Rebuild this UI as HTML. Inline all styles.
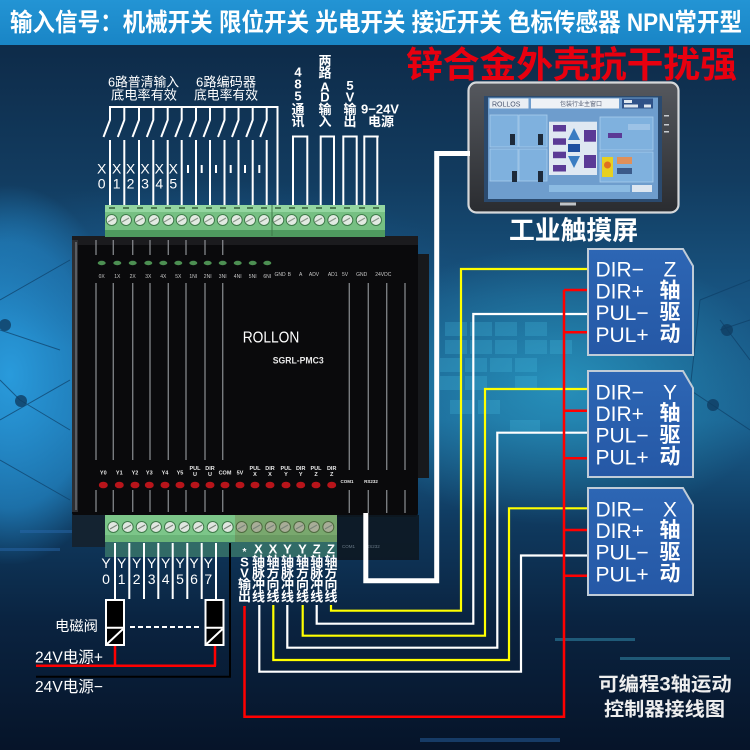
<!DOCTYPE html>
<html><head><meta charset="utf-8">
<style>
html,body{margin:0;padding:0;background:#0c2a45;}
svg{display:block}
text{font-family:"Liberation Sans","Noto Sans CJK SC",sans-serif;}
</style></head><body>
<svg width="750" height="750" viewBox="0 0 750 750" xmlns="http://www.w3.org/2000/svg">
<defs>
<linearGradient id="bg" x1="0" y1="0" x2="0" y2="1">
 <stop offset="0.06" stop-color="#0e2b49"/>
 <stop offset="0.24" stop-color="#123c60"/>
 <stop offset="0.40" stop-color="#185582"/>
 <stop offset="0.56" stop-color="#1a5f8e"/>
 <stop offset="0.70" stop-color="#0f395e"/>
 <stop offset="0.83" stop-color="#0a2340"/>
 <stop offset="1" stop-color="#061429"/>
</linearGradient>
<radialGradient id="glowL"><stop offset="0" stop-color="#2a9ee0" stop-opacity="0.95"/><stop offset="0.7" stop-color="#2490d4" stop-opacity="0.6"/><stop offset="1" stop-color="#2490d4" stop-opacity="0"/></radialGradient>
<radialGradient id="glowR"><stop offset="0" stop-color="#2fb2da" stop-opacity="0.6"/><stop offset="1" stop-color="#2fb2da" stop-opacity="0"/></radialGradient>
<radialGradient id="glowB"><stop offset="0" stop-color="#1b5f95" stop-opacity="0.6"/><stop offset="1" stop-color="#1b5f95" stop-opacity="0"/></radialGradient>
<linearGradient id="bez" x1="0" y1="0" x2="0" y2="1"><stop offset="0" stop-color="#55585e"/><stop offset="1" stop-color="#2a2c30"/></linearGradient>
<linearGradient id="boxg" x1="0" y1="0" x2="0" y2="1"><stop offset="0" stop-color="#2d66b4"/><stop offset="1" stop-color="#2558a6"/></linearGradient>
<linearGradient id="banner" x1="0" y1="0" x2="0" y2="1"><stop offset="0" stop-color="#2394d4"/><stop offset="1" stop-color="#1985c6"/></linearGradient>
</defs>

<!-- background -->
<rect x="0" y="0" width="750" height="750" fill="url(#bg)"/>
<ellipse cx="10" cy="375" rx="120" ry="190" fill="url(#glowL)"/>
<ellipse cx="560" cy="385" rx="220" ry="140" fill="url(#glowR)"/>
<ellipse cx="200" cy="270" rx="260" ry="90" fill="url(#glowB)"/>
<!-- tiles -->
<g fill="#4cc6ea" opacity="0.22">
 <rect x="445" y="322" width="22" height="14"/><rect x="470" y="322" width="22" height="14"/><rect x="495" y="322" width="22" height="14"/><rect x="525" y="322" width="22" height="14"/>
 <rect x="445" y="340" width="22" height="14"/><rect x="470" y="340" width="22" height="14"/><rect x="495" y="340" width="22" height="14"/><rect x="525" y="340" width="22" height="14"/><rect x="550" y="340" width="22" height="14"/>
 <rect x="440" y="358" width="22" height="14"/><rect x="465" y="358" width="22" height="14"/><rect x="490" y="358" width="22" height="14"/><rect x="515" y="358" width="22" height="14"/>
 <rect x="440" y="376" width="22" height="14"/><rect x="465" y="376" width="22" height="14"/><rect x="515" y="376" width="22" height="14"/>
 <rect x="450" y="400" width="22" height="14"/><rect x="478" y="400" width="22" height="14"/><rect x="510" y="420" width="30" height="12"/>
</g>
<!-- network lines -->
<g stroke="#0e3f66" stroke-width="1" opacity="0.7" fill="none">
 <path d="M0 300 L70 260 M0 330 L60 350 M0 420 L70 380 M20 400 L70 430 M0 460 L70 500 M20 400 L0 380"/>
 <path d="M700 300 L750 280 M720 320 L750 360 M690 390 L750 430 M700 300 L690 390 M720 330 L750 320"/>
</g>
<g fill="#0f3d63" opacity="0.8"><circle cx="5" cy="325" r="6"/><circle cx="21" cy="401" r="6"/><circle cx="727" cy="330" r="6"/><circle cx="713" cy="405" r="6"/></g>
<!-- streaks -->
<g opacity="0.45">
 <rect x="555" y="638" width="80" height="3" fill="#3aa0c0"/>
 <rect x="620" y="657" width="110" height="3" fill="#3aa0c0"/>
 <rect x="420" y="738" width="140" height="4" fill="#2a6ab0"/>
 <rect x="20" y="530" width="120" height="3" fill="#2a6ab0"/>
 <rect x="0" y="548" width="60" height="3" fill="#2a6ab0"/>
</g>

<!-- banner -->
<rect x="0" y="0" width="750" height="45" fill="url(#banner)"/>
<text x="10" y="31" font-size="25" font-weight="bold" fill="#ffffff" textLength="732" lengthAdjust="spacingAndGlyphs">输入信号：机械开关 限位开关 光电开关 接近开关 色标传感器 NPN常开型</text>

<!-- red title -->
<text x="406" y="77" font-size="36" font-weight="bold" fill="#e8000f" textLength="331" lengthAdjust="spacingAndGlyphs">锌合金外壳抗干扰强</text>

<!-- top labels -->
<g fill="#ffffff" font-size="13">
 <text x="108" y="86.5" textLength="71" lengthAdjust="spacingAndGlyphs">6路普清输入</text>
 <text x="111" y="99.5" textLength="66" lengthAdjust="spacingAndGlyphs">底电率有效</text>
 <text x="196" y="86.5" textLength="60" lengthAdjust="spacingAndGlyphs">6路编码器</text>
 <text x="194" y="99.5" textLength="64" lengthAdjust="spacingAndGlyphs">底电率有效</text>
</g>
<g fill="#ffffff" font-size="13" font-weight="bold" text-anchor="middle">
 <text x="298" y="76.5">4</text><text x="298" y="88.5">8</text><text x="298" y="100.5">5</text><text x="298" y="114">通</text><text x="298" y="126">讯</text>
 <text x="325" y="65.5">两</text><text x="325" y="77.5">路</text><text x="325" y="91.5">A</text><text x="325" y="101.7">D</text><text x="325" y="114">输</text><text x="325" y="126">入</text>
 <text x="350" y="90">5</text><text x="350" y="101.7">V</text><text x="350" y="114">输</text><text x="350" y="126">出</text>
 <text x="380" y="113.3">9−24V</text>
 <text x="381" y="126">电源</text>
</g>

<!-- top wires -->
<g stroke="#ffffff" stroke-width="2" fill="none">
 <path d="M109 107 H278.5 M277.5 106 V206"/>
 <path d="M110 107V120L103.5 137M110 140V206"/>
 <path d="M124.3 107V120L117.8 137M124.3 140V206"/>
 <path d="M139 107V120L132.5 137M139 140V206"/>
 <path d="M153.3 107V120L146.8 137M153.3 140V206"/>
 <path d="M167.7 107V120L161.2 137M167.7 140V206"/>
 <path d="M181.7 107V120L175.2 137M181.7 140V206"/>
 <path d="M196 107V120L189.5 137M196 140V206"/>
 <path d="M210 107V120L203.5 137M210 140V206"/>
 <path d="M224.5 107V120L218 137M224.5 140V206"/>
 <path d="M238.5 107V120L232 137M238.5 140V206"/>
 <path d="M252.7 107V120L246.2 137M252.7 140V206"/>
 <path d="M266.7 107V120L260.2 137M266.7 140V206"/>
 <path d="M293 206V136.5H308.3M307.3 136.5V206"/>
 <path d="M320.7 206V136.5H335M334 136.5V206"/>
 <path d="M343.3 206V136.5H357.7M356.7 136.5V206"/>
 <path d="M364.3 206V136.5H378.7M377.3 136.5V206"/>
 <path d="M188 165V173M201.7 165V173M216 165V173M230.7 165V173M245 165V173M259.3 165V173"/>
</g>
<g fill="#ffffff" font-size="14" text-anchor="middle">
 <text x="101.7" y="173.5">X</text><text x="116.7" y="173.5">X</text><text x="130.5" y="173.5">X</text><text x="145" y="173.5">X</text><text x="159.3" y="173.5">X</text><text x="173.3" y="173.5">X</text>
 <text x="101.7" y="188.5">0</text><text x="116.7" y="188.5">1</text><text x="130.5" y="188.5">2</text><text x="145" y="188.5">3</text><text x="159.3" y="188.5">4</text><text x="173.3" y="188.5">5</text>
</g>

<!-- touch screen -->
<rect x="468.5" y="82.5" width="210" height="130" rx="8" fill="url(#bez)" stroke="#d6d8da" stroke-width="2.2"/>
<rect x="484" y="96" width="178" height="106" fill="#2b4a6e"/>
<rect x="488" y="97.5" width="170" height="101.5" fill="#6e9dcd"/>
<rect x="489.5" y="98.5" width="39" height="10" fill="#e9eef3"/>
<text x="492" y="106.3" font-size="7" fill="#4a5670" font-family="Liberation Serif, serif">ROLLOS</text>
<rect x="531" y="98.5" width="88" height="10" fill="#eef2f6"/>
<text x="560" y="106" font-size="6" fill="#5a6378">包装行业主窗口</text>
<rect x="622" y="98.5" width="31" height="10" fill="#2f5288"/>
<rect x="624" y="100" width="8" height="3" fill="#e0e8f0"/><rect x="624" y="104.5" width="14" height="3" fill="#e0e8f0"/><rect x="644" y="104.5" width="7" height="3" fill="#e0e8f0"/>
<g fill="#7fb1de" stroke="#a8cdec" stroke-width="0.8">
 <rect x="490" y="115" width="28" height="32"/><rect x="519" y="115" width="28" height="32"/>
 <rect x="490" y="149" width="28" height="32"/><rect x="519" y="149" width="28" height="32"/>
 <rect x="600" y="117" width="53" height="33"/><rect x="600" y="152" width="53" height="30"/>
</g>
<g fill="#1d2a3a"><rect x="510" y="134" width="5" height="11"/><rect x="538" y="134" width="5" height="11"/><rect x="512" y="171" width="5" height="11"/><rect x="538" y="171" width="5" height="11"/></g>
<rect x="549" y="121.7" width="48" height="53.3" fill="#dfe8f2"/>
<g fill="#5b3a96"><rect x="553" y="125" width="13" height="6.5"/><rect x="553" y="138.3" width="13" height="6.5"/><rect x="553" y="151.7" width="13" height="6.5"/><rect x="553" y="165" width="13" height="6.5"/><rect x="584" y="130" width="12" height="11.7"/><rect x="584" y="155" width="12" height="13"/></g>
<path d="M574 128 L580 140 L568 140 Z M568 156 L580 156 L574 168 Z" fill="#3a7cc2"/>
<rect x="568" y="144" width="12" height="8" fill="#1f4fa0"/>
<rect x="628" y="124" width="22" height="6" fill="#9cc2e6"/><rect x="608" y="133" width="14" height="5" fill="#5b3a96"/>
<rect x="602" y="157" width="11" height="20" fill="#e8d020"/><circle cx="607.5" cy="165" r="3.5" fill="#e07020"/>
<rect x="617" y="157" width="15" height="7" fill="#e0905a"/><rect x="617" y="168" width="15" height="6" fill="#3a5a8a"/>
<rect x="549" y="185" width="81" height="7" fill="#8cbbe2"/><rect x="632" y="185" width="20" height="7" fill="#dde6f0"/>
<g fill="#c8ccd0"><rect x="664" y="115" width="5" height="1.5"/><rect x="664" y="124" width="5" height="1.5"/><rect x="664" y="131" width="5" height="1.5"/></g>
<rect x="560" y="202.5" width="16" height="3" fill="#c0c4c8"/>
<text x="509" y="239.5" font-size="26" font-weight="bold" fill="#ffffff" textLength="129" lengthAdjust="spacingAndGlyphs">工业触摸屏</text>

<!-- device body -->
<rect x="72" y="236" width="346" height="281" rx="4" fill="#0a0a0c"/>
<rect x="418" y="254" width="11" height="224" fill="#17191c"/>
<rect x="72" y="236" width="346" height="9" fill="#1b1b1e"/>
<rect x="72" y="240" width="6" height="272" fill="#2c2e32"/>
<line x1="76" y1="242" x2="76" y2="510" stroke="#6a6d72" stroke-width="1.5"/>
<g stroke="#8d9095" stroke-width="1.4" opacity="0.85">
 <path d="M96 283V460M113.3 283V460M132.7 283V460M150 283V460M168.3 283V460M186 283V460M205 283V460M222.7 283V460"/>
 <path d="M96 490V512M113.3 490V512M132.7 490V512M150 490V512M168.3 490V512M186 490V512M205 490V512M222.7 490V512"/>
 <path d="M96 240V255M113.3 240V255M132.7 240V255M150 240V255M168.3 240V255M186 240V255M205 240V255M222.7 240V255"/>
 <path d="M349.3 283V470M368.3 283V470M386.7 283V470M405 283V470M349.3 490V513M368.3 490V513M386.7 490V513M405 490V513"/>
</g>
<!-- green LEDs -->
<g fill="#4c8f52">
 <ellipse cx="101.7" cy="263" rx="4" ry="2.2"/><ellipse cx="117.3" cy="263" rx="4" ry="2.2"/><ellipse cx="132.7" cy="263" rx="4" ry="2.2"/><ellipse cx="148.3" cy="263" rx="4" ry="2.2"/><ellipse cx="163.3" cy="263" rx="4" ry="2.2"/><ellipse cx="178.3" cy="263" rx="4" ry="2.2"/><ellipse cx="193.3" cy="263" rx="4" ry="2.2"/><ellipse cx="207.7" cy="263" rx="4" ry="2.2"/><ellipse cx="222.7" cy="263" rx="4" ry="2.2"/><ellipse cx="237.7" cy="263" rx="4" ry="2.2"/><ellipse cx="252.7" cy="263" rx="4" ry="2.2"/><ellipse cx="267.3" cy="263" rx="4" ry="2.2"/>
</g>
<g fill="#c8c8c8" font-size="5" text-anchor="middle">
 <text x="101.7" y="278">0X</text><text x="117.3" y="278">1X</text><text x="132.7" y="278">2X</text><text x="148.3" y="278">3X</text><text x="163.3" y="278">4X</text><text x="178.3" y="278">5X</text><text x="193.3" y="278">1NI</text><text x="207.7" y="278">2NI</text><text x="222.7" y="278">3NI</text><text x="237.7" y="278">4NI</text><text x="252.7" y="278">5NI</text><text x="267.3" y="278">6NI</text>
 <text x="280" y="276">GND</text><text x="289.3" y="276">B</text><text x="300.7" y="276">A</text><text x="314" y="276">ADV</text><text x="332.7" y="276">AD1</text><text x="345" y="276">5V</text><text x="361.7" y="276">GND</text><text x="383.3" y="276">24VDC</text>
</g>
<text x="242.7" y="342.7" font-size="15.5" fill="#ffffff" textLength="56.6" lengthAdjust="spacingAndGlyphs">ROLLON</text>
<text x="272.7" y="363.3" font-size="9.5" font-weight="bold" fill="#e8e8e8" textLength="51" lengthAdjust="spacingAndGlyphs">SGRL-PMC3</text>
<!-- red LEDs -->
<g fill="#b8141a">
 <ellipse cx="103.3" cy="485" rx="4.5" ry="3.3"/><ellipse cx="119.3" cy="485" rx="4.5" ry="3.3"/><ellipse cx="135" cy="485" rx="4.5" ry="3.3"/><ellipse cx="149.3" cy="485" rx="4.5" ry="3.3"/><ellipse cx="165" cy="485" rx="4.5" ry="3.3"/><ellipse cx="180" cy="485" rx="4.5" ry="3.3"/><ellipse cx="195" cy="485" rx="4.5" ry="3.3"/><ellipse cx="210" cy="485" rx="4.5" ry="3.3"/><ellipse cx="225" cy="485" rx="4.5" ry="3.3"/><ellipse cx="240" cy="485" rx="4.5" ry="3.3"/><ellipse cx="255" cy="485" rx="4.5" ry="3.3"/><ellipse cx="270" cy="485" rx="4.5" ry="3.3"/><ellipse cx="286" cy="485" rx="4.5" ry="3.3"/><ellipse cx="300.7" cy="485" rx="4.5" ry="3.3"/><ellipse cx="316" cy="485" rx="4.5" ry="3.3"/><ellipse cx="331.7" cy="485" rx="4.5" ry="3.3"/>
</g>
<g fill="#e8e8e8" font-size="5.5" text-anchor="middle" font-weight="bold">
 <text x="103.3" y="474.5">Y0</text><text x="119.3" y="474.5">Y1</text><text x="135" y="474.5">Y2</text><text x="149.3" y="474.5">Y3</text><text x="165" y="474.5">Y4</text><text x="180" y="474.5">Y5</text>
 <text x="195" y="470">PUL</text><text x="195" y="476">U</text><text x="210" y="470">DIR</text><text x="210" y="476">U</text><text x="225" y="474.5">COM</text><text x="240" y="474.5">5V</text>
 <text x="255" y="470">PUL</text><text x="255" y="476">X</text><text x="270" y="470">DIR</text><text x="270" y="476">X</text><text x="286" y="470">PUL</text><text x="286" y="476">Y</text>
 <text x="300.7" y="470">DIR</text><text x="300.7" y="476">Y</text><text x="316" y="470">PUL</text><text x="316" y="476">Z</text><text x="331.7" y="470">DIR</text><text x="331.7" y="476">Z</text>
 <text x="347" y="483" font-size="4.5">COM1</text><text x="371" y="483" font-size="4.5">RS232</text>
</g>

<!-- top terminal block -->
<rect x="105" y="205" width="280" height="31" fill="#76c083"/>
<rect x="105" y="205" width="280" height="7" fill="#93d6a0"/>
<rect x="105" y="230" width="280" height="7" fill="#4f9a5f"/>
<line x1="272" y1="205" x2="272" y2="236" stroke="#3f7a4a" stroke-width="1"/>
<g fill="#4a7a52">
 <rect x="109" y="207" width="6" height="2"/><rect x="123" y="207" width="6" height="2"/><rect x="137" y="207" width="6" height="2"/><rect x="151" y="207" width="6" height="2"/><rect x="165" y="207" width="6" height="2"/><rect x="179" y="207" width="6" height="2"/><rect x="192" y="207" width="6" height="2"/><rect x="206" y="207" width="6" height="2"/><rect x="220" y="207" width="6" height="2"/><rect x="234" y="207" width="6" height="2"/><rect x="247" y="207" width="6" height="2"/><rect x="261" y="207" width="6" height="2"/><rect x="275" y="207" width="6" height="2"/><rect x="289" y="207" width="6" height="2"/><rect x="302" y="207" width="6" height="2"/><rect x="316" y="207" width="6" height="2"/><rect x="330" y="207" width="6" height="2"/><rect x="344" y="207" width="6" height="2"/><rect x="359" y="207" width="6" height="2"/><rect x="373" y="207" width="6" height="2"/>
</g>
<g fill="#e2eae2" stroke="#3f7a4a" stroke-width="1">
 <circle cx="111.7" cy="220" r="5.5"/><circle cx="126" cy="220" r="5.5"/><circle cx="140" cy="220" r="5.5"/><circle cx="154" cy="220" r="5.5"/><circle cx="168.3" cy="220" r="5.5"/><circle cx="181.7" cy="220" r="5.5"/><circle cx="195" cy="220" r="5.5"/><circle cx="209" cy="220" r="5.5"/><circle cx="222.7" cy="220" r="5.5"/><circle cx="236.7" cy="220" r="5.5"/><circle cx="250" cy="220" r="5.5"/><circle cx="264" cy="220" r="5.5"/><circle cx="278.3" cy="220" r="5.5"/><circle cx="291.7" cy="220" r="5.5"/><circle cx="305" cy="220" r="5.5"/><circle cx="319.3" cy="220" r="5.5"/><circle cx="333.3" cy="220" r="5.5"/><circle cx="347.3" cy="220" r="5.5"/><circle cx="361.7" cy="220" r="5.5"/><circle cx="376" cy="220" r="5.5"/>
</g>
<g stroke="#8a968a" stroke-width="1.2">
 <path d="M108 222L115 218M122 222L129 218M136 222L143 218M150 222L157 218M164 222L171 218M178 222L185 218M191 222L198 218M205 222L212 218M219 222L226 218M233 222L240 218M246 222L253 218M260 222L267 218M274 222L281 218M288 222L295 218M301 222L308 218M315 222L322 218M329 222L336 218M343 222L350 218M358 222L365 218M372 222L379 218"/>
</g>

<!-- lower dark areas -->
<rect x="72" y="515" width="34" height="32" fill="#142331"/>
<rect x="337" y="515" width="82" height="45" fill="#0d1822" opacity="0.9"/>
<g fill="#6a7a88" font-size="4.5"><text x="342" y="548">COM1</text><text x="366" y="548">RS232</text></g>

<!-- bottom terminal -->
<rect x="105" y="515" width="130" height="27" fill="#7cc689"/>
<rect x="235" y="515" width="102" height="27" fill="#79a86e"/>
<rect x="105" y="535" width="130" height="7" fill="#6ab478"/>
<rect x="235" y="535" width="102" height="7" fill="#6a9a62"/>
<rect x="105" y="542" width="232" height="15" fill="#3e7d6c" opacity="0.75"/>
<g fill="#e0e6e0" stroke="#3f7a4a" stroke-width="1">
 <circle cx="113.3" cy="527" r="5.5"/><circle cx="127.7" cy="527" r="5.5"/><circle cx="141.7" cy="527" r="5.5"/><circle cx="156" cy="527" r="5.5"/><circle cx="170" cy="527" r="5.5"/><circle cx="184.3" cy="527" r="5.5"/><circle cx="198.3" cy="527" r="5.5"/><circle cx="212.7" cy="527" r="5.5"/><circle cx="227.7" cy="527" r="5.5"/>
</g>
<g fill="#a8ad98" stroke="#4f6a40" stroke-width="1">
 <circle cx="241.7" cy="527" r="5.5"/><circle cx="256.7" cy="527" r="5.5"/><circle cx="270.7" cy="527" r="5.5"/><circle cx="285" cy="527" r="5.5"/><circle cx="299.3" cy="527" r="5.5"/><circle cx="314" cy="527" r="5.5"/><circle cx="328.3" cy="527" r="5.5"/>
</g>
<g stroke="#7a867a" stroke-width="1.2">
 <path d="M110 529L117 525M124 529L131 525M138 529L145 525M152 529L159 525M166 529L173 525M181 529L188 525M195 529L202 525M209 529L216 525M224 529L231 525M238 529L245 525M253 529L260 525M267 529L274 525M281 529L288 525M296 529L303 525M310 529L317 525M325 529L332 525"/>
</g>

<!-- bottom-left wiring -->
<g stroke="#ffffff" stroke-width="2" fill="none">
 <path d="M115 543V599M129.3 543V599M144 543V599M158.3 543V599M172.7 543V599M187.3 543V599M201.7 543V599M216 543V599"/>
 <path d="M130 627H200" stroke-dasharray="5 3"/>
</g>
<g fill="#ffffff" font-size="14" text-anchor="middle">
 <text x="106" y="568">Y</text><text x="121.7" y="568">Y</text><text x="136.7" y="568">Y</text><text x="151.7" y="568">Y</text><text x="165.7" y="568">Y</text><text x="180" y="568">Y</text><text x="194" y="568">Y</text><text x="208.3" y="568">Y</text>
 <text x="106" y="584">0</text><text x="121.7" y="584">1</text><text x="136.7" y="584">2</text><text x="151.7" y="584">3</text><text x="165.7" y="584">4</text><text x="180" y="584">5</text><text x="194" y="584">6</text><text x="208.3" y="584">7</text>
</g>
<path d="M230 543V676.7H36" stroke="#000000" stroke-width="2" fill="none"/>
<path d="M115 645V665.7M36 665.7H216M215 645V665.7" stroke="#ff0000" stroke-width="2.5" fill="none"/>
<g stroke="#ffffff" stroke-width="2">
 <rect x="106" y="600" width="18" height="45" fill="#000000"/>
 <line x1="106" y1="627.7" x2="124" y2="627.7"/>
 <line x1="107" y1="644" x2="123" y2="629"/>
 <rect x="205.5" y="600" width="18" height="45" fill="#000000"/>
 <line x1="205.5" y1="627.7" x2="223.5" y2="627.7"/>
 <line x1="206.5" y1="644" x2="222.5" y2="629"/>
</g>
<text x="55" y="631" font-size="14" fill="#ffffff" textLength="43" lengthAdjust="spacingAndGlyphs">电磁阀</text>
<text x="35" y="662.5" font-size="16" fill="#ffffff" textLength="68" lengthAdjust="spacingAndGlyphs">24V电源+</text>
<text x="35" y="692" font-size="16" fill="#ffffff" textLength="68" lengthAdjust="spacingAndGlyphs">24V电源−</text>

<!-- bottom-right vertical labels -->
<g fill="#ffffff" font-size="13" font-weight="bold" text-anchor="middle">
 <text x="244.5" y="555" font-size="10">*</text><text x="244.5" y="566.5">S</text><text x="244.5" y="577.5">V</text><text x="244.5" y="589">输</text><text x="244.5" y="600.8">出</text>
 <text x="258.5" y="553.3">X</text><text x="258.5" y="566">轴</text><text x="258.5" y="577.5">脉</text><text x="258.5" y="589">冲</text><text x="258.5" y="600.8">线</text>
 <text x="273" y="553.3">X</text><text x="273" y="566">轴</text><text x="273" y="577.5">方</text><text x="273" y="589">向</text><text x="273" y="600.8">线</text>
 <text x="287.5" y="553.3">Y</text><text x="287.5" y="566">轴</text><text x="287.5" y="577.5">脉</text><text x="287.5" y="589">冲</text><text x="287.5" y="600.8">线</text>
 <text x="302.5" y="553.3">Y</text><text x="302.5" y="566">轴</text><text x="302.5" y="577.5">方</text><text x="302.5" y="589">向</text><text x="302.5" y="600.8">线</text>
 <text x="316.7" y="553.3">Z</text><text x="316.7" y="566">轴</text><text x="316.7" y="577.5">脉</text><text x="316.7" y="589">冲</text><text x="316.7" y="600.8">线</text>
 <text x="331" y="553.3">Z</text><text x="331" y="566">轴</text><text x="331" y="577.5">方</text><text x="331" y="589">向</text><text x="331" y="600.8">线</text>
</g>

<!-- thick white cable -->
<path d="M365.8 513V580.8H436.7V153.5H470" stroke="#ffffff" stroke-width="5" fill="none"/>

<!-- colored wires -->
<g fill="none" stroke-width="2.2">
 <path d="M331 605V610.7H461V269H589" stroke="#ffff00"/>
 <path d="M316.7 605V623.7H473.3V314H589" stroke="#ffffff"/>
 <path d="M302.7 605V635.7H485V389H589" stroke="#ffff00"/>
 <path d="M287.3 605V647.7H497.3V432.7H589" stroke="#ffffff"/>
 <path d="M273.3 605V660H509V508.3H589" stroke="#ffff00"/>
 <path d="M259.3 605V671.7H521V555.5H589" stroke="#ffffff"/>
 <path d="M244.5 606V716.7H564V290M564 290H589M564 332.3H589M564 410.7H589M564 458.3H589M564 530H589M564 575.7H589" stroke="#ff0000" stroke-width="2.5"/>
</g>

<!-- driver boxes -->
<g stroke="#c0ccd8" stroke-width="2" fill="url(#boxg)">
 <path d="M588 249H683L693 266V355H588Z"/>
 <path d="M588 371H683L693 388V477H588Z"/>
 <path d="M588 488H683L693 505V595H588Z"/>
</g>
<g fill="#ffffff" font-size="21">
 <text x="595.5" y="276.7">DIR−</text><text x="595.5" y="298.4">DIR+</text><text x="595.5" y="320.1">PUL−</text><text x="595.5" y="341.8">PUL+</text>
 <text x="595.5" y="399.3">DIR−</text><text x="595.5" y="421">DIR+</text><text x="595.5" y="442.7">PUL−</text><text x="595.5" y="464.4">PUL+</text>
 <text x="595.5" y="516.3">DIR−</text><text x="595.5" y="538">DIR+</text><text x="595.5" y="559.7">PUL−</text><text x="595.5" y="581.4">PUL+</text>
</g>
<g fill="#ffffff" font-size="21" font-weight="bold" text-anchor="middle">
 <text x="670" y="276.7" font-weight="normal">Z</text><text x="670" y="297.5">轴</text><text x="670" y="319.2">驱</text><text x="670" y="340.9">动</text>
 <text x="670" y="399.3" font-weight="normal">Y</text><text x="670" y="420.1">轴</text><text x="670" y="441.8">驱</text><text x="670" y="463.5">动</text>
 <text x="670" y="516.3" font-weight="normal">X</text><text x="670" y="537.1">轴</text><text x="670" y="558.8">驱</text><text x="670" y="580.5">动</text>
</g>

<!-- bottom right caption -->
<g fill="#eeeeee" font-size="19" font-weight="bold">
 <text x="598.3" y="690.5" textLength="133.4" lengthAdjust="spacingAndGlyphs">可编程3轴运动</text>
 <text x="604" y="715.5" textLength="121" lengthAdjust="spacingAndGlyphs">控制器接线图</text>
</g>
</svg>
</body></html>
